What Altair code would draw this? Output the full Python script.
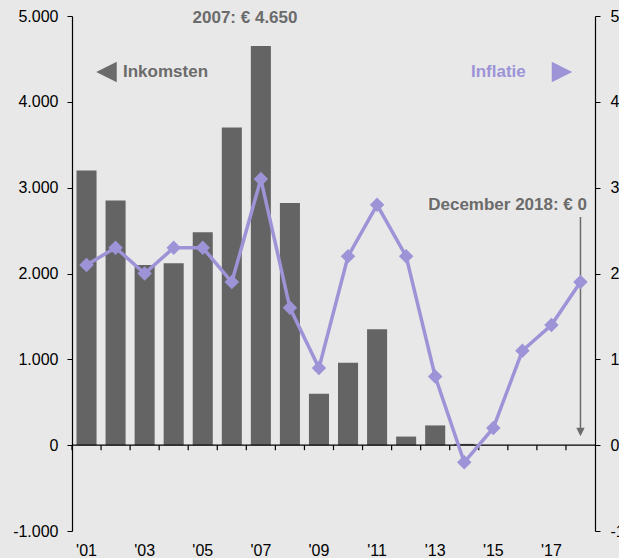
import altair as alt
import pandas as pd

# ---- data ----
years = list(range(2001, 2019))
inkomsten = [3200, 2850, 2100, 2120, 2480, 3700, 4650, 2820, 600, 960, 1350, 100, 230, 15, 0, 0, 0, 0]
inflatie = [2.1, 2.3, 2.0, 2.3, 2.3, 1.9, 3.1, 1.6, 0.9, 2.2, 2.8, 2.2, 0.8, -0.2, 0.2, 1.1, 1.4, 1.9]
left_ticks = [-1000, 0, 1000, 2000, 3000, 4000, 5000]
right_ticks = [-1, 0, 1, 2, 3, 4, 5]
left_domain = [-1000, 5000]
right_domain = [-1, 5]

df = pd.DataFrame({"jaar": years, "inkomsten": inkomsten, "inflatie": inflatie})

FONT = "Liberation Sans"
GREY = "#6b6b6b"
BAR = "#646464"
PURPLE = "#9d93d7"
W, H = 523, 515
# pixel row of the value 0 on the left scale (top of plot = domain max)
zero_pos = H * left_domain[1] / (left_domain[1] - left_domain[0])

xscale = alt.Scale(paddingInner=0, paddingOuter=0)
left_scale = alt.Scale(domain=left_domain, nice=False, zero=False)

bars = alt.Chart(df).mark_bar(
    width={"band": 0.69}, color=BAR
).encode(
    x=alt.X("jaar:O", scale=xscale, title=None, axis=None),
    y=alt.Y("inkomsten:Q", scale=left_scale, title=None,
            axis=alt.Axis(orient="left", values=left_ticks, grid=False,
                          domainColor="black", domainWidth=1.2, tickColor="black",
                          tickSize=5, labelPadding=9, labelFontSize=16,
                          labelColor="black", labelFont=FONT,
                          labelExpr="replace(replace(format(datum.value, ','), ',', '.'), '\u2212', '-')")),
)

one = pd.DataFrame({"a": [0]})

zero_line = alt.Chart(one).mark_rule(color="black", strokeWidth=1.2).encode(
    x=alt.value(0), x2=alt.value(W), y=alt.value(zero_pos)
)

x_ticks = alt.Chart(df).mark_rule(color="black", strokeWidth=1.2).encode(
    x=alt.X("jaar:O", bandPosition=0, axis=None),
    y=alt.value(zero_pos),
    y2=alt.value(zero_pos + 5),
)

arrow_df = pd.DataFrame({"jaar": [2018]})
arrow = alt.Chart(arrow_df).mark_rule(color=GREY, strokeWidth=1.5).encode(
    x=alt.X("jaar:O", axis=None),
    y=alt.value(201),
    y2=alt.value(414),
)
arrow_head = alt.Chart(arrow_df).mark_point(
    shape="M-1,-1L1,-1L0,1Z", filled=True, color=GREY, opacity=1, size=70
).encode(
    x=alt.X("jaar:O", axis=None),
    y=alt.value(416),
)

line = alt.Chart(df).mark_line(
    color=PURPLE, strokeWidth=3.5,
    point=alt.OverlayMarkDef(shape="diamond", filled=True, color=PURPLE, size=210, opacity=1),
).encode(
    x=alt.X("jaar:O", title=None, axis=None),
    y=alt.Y("inflatie:Q", scale=alt.Scale(domain=right_domain, nice=False, zero=False),
            title=None,
            axis=alt.Axis(orient="right", values=right_ticks, grid=False,
                          domainColor="black", domainWidth=1.2, tickColor="black",
                          tickSize=5, labelPadding=10, labelFontSize=16,
                          labelColor="black", labelFont=FONT,
                          labelExpr="replace(format(datum.value, 'd'), '\u2212', '-')")),
)

# year labels on the bottom ('01, '03, ...)
year_labels = alt.Chart(df).transform_calculate(
    lbl="datum.jaar % 2 == 1 ? \"'\" + substring(toString(datum.jaar), 2, 4) : ''"
).mark_text(
    font=FONT, fontSize=16, color="black", align="center", baseline="middle"
).encode(
    x=alt.X("jaar:O", axis=None),
    y=alt.value(H + 20),
    text="lbl:N",
)


def label(txt, x, y, color, align="left"):
    return alt.Chart(one).mark_text(
        text=txt, font=FONT, fontSize=17, fontWeight="bold", color=color,
        align=align, baseline="middle"
    ).encode(x=alt.value(x), y=alt.value(y))


def tri(path, x, y, color):
    return alt.Chart(one).mark_point(
        shape=path, filled=True, color=color, opacity=1, size=420
    ).encode(x=alt.value(x), y=alt.value(y))


t2007 = label("2007: € 4.650", 173, 2, GREY, "center")
t_ink = label("Inkomsten", 51, 56, GREY)
t_inf = label("Inflatie", 399, 56, PURPLE)
t_dec = label("December 2018: € 0", 515, 189, GREY, "right")
tri_l = tri("M-1,0L1,-1L1,1Z", 34.5, 56, GREY)
tri_r = tri("M1,0L-1,-1L-1,1Z", 490, 56, PURPLE)

chart = alt.layer(
    bars, zero_line, x_ticks, arrow, arrow_head, line, year_labels,
    t2007, t_ink, t_inf, t_dec, tri_l, tri_r
).resolve_scale(y="independent").properties(
    width=W, height=H,
    autosize=alt.AutoSizeParams(type="none"),
    padding={"left": 72, "top": 16, "right": 24, "bottom": 27},
    background="#e8e8e8",
).configure_view(stroke=None)

chart.save("out.html", embed_options={"renderer": "svg", "actions": False})
